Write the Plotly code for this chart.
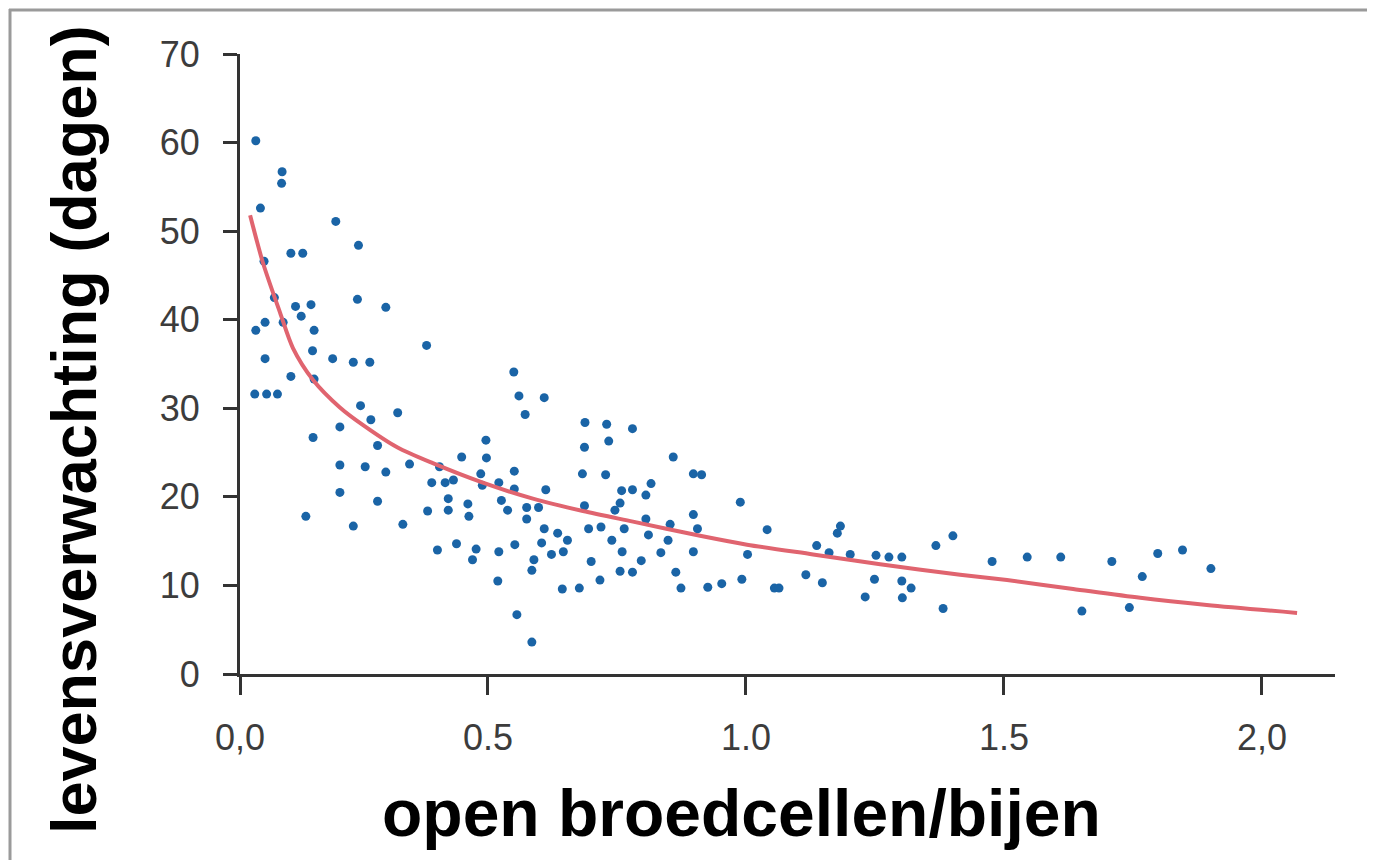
import plotly.graph_objects as go

# ---- data ----
x_pts = [
    0.050, 0.101, 0.100, 0.059, 0.205, 0.249, 0.066, 0.118, 0.141, 0.086,
    0.247, 0.302, 0.127, 0.157, 0.138, 0.068, 0.103, 0.050, 0.163, 0.381,
    0.160, 0.068, 0.199, 0.239, 0.271, 0.118, 0.163, 0.048, 0.071, 0.092,
    0.253, 0.325, 0.273, 0.213, 0.161, 0.286, 0.213, 0.262, 0.302, 0.348,
    0.406, 0.391, 0.417, 0.423, 0.213, 0.286, 0.383, 0.423, 0.147, 0.239,
    0.335, 0.402,
    0.550, 0.560, 0.609, 0.572, 0.688, 0.730, 0.780, 0.734, 0.687, 0.496,
    0.449, 0.497, 0.859, 0.683, 0.728, 0.898, 0.486, 0.551, 0.433, 0.489,
    0.521, 0.551, 0.612, 0.816, 0.780, 0.759, 0.806, 0.461, 0.526, 0.756,
    0.687, 0.746, 0.575, 0.598, 0.463, 0.538, 0.575, 0.898, 0.806, 0.853,
    0.695, 0.719, 0.764, 0.609, 0.635, 0.654, 0.906, 0.811, 0.740, 0.849,
    0.439, 0.552, 0.604, 0.477, 0.521, 0.623, 0.646, 0.760, 0.835, 0.898,
    0.470, 0.589, 0.700, 0.797, 0.585, 0.756, 0.780, 0.864, 0.717, 0.519,
    0.644, 0.677, 0.874, 0.556, 0.585,
    0.914, 0.989, 1.041, 1.183, 1.177, 1.401, 1.368, 1.137, 1.161, 1.202,
    1.252, 1.277, 1.302, 1.003, 0.926, 0.953, 0.992, 1.055, 1.064, 1.116,
    1.148, 1.249, 1.302, 1.320, 1.231, 1.303, 1.382,
    1.477, 1.545, 1.610, 1.651, 1.709, 1.743, 1.768, 1.798, 1.846, 1.901,
]
y_pts = [
    60.2, 56.7, 55.4, 52.6, 51.1, 48.4, 46.6, 47.5, 47.5, 42.5,
    42.3, 41.4, 41.5, 41.7, 40.4, 39.7, 39.7, 38.8, 38.8, 37.1,
    36.5, 35.6, 35.6, 35.2, 35.2, 33.6, 33.3, 31.6, 31.6, 31.6,
    30.3, 29.5, 28.7, 27.9, 26.7, 25.8, 23.6, 23.4, 22.8, 23.7,
    23.4, 21.6, 21.6, 19.8, 20.5, 19.5, 18.4, 18.5, 17.8, 16.7,
    16.9, 14.0,
    34.1, 31.4, 31.2, 29.3, 28.4, 28.2, 27.7, 26.3, 25.6, 26.4,
    24.5, 24.4, 24.5, 22.6, 22.5, 22.6, 22.6, 22.9, 21.9, 21.3,
    21.6, 20.9, 20.8, 21.5, 20.8, 20.7, 20.2, 19.2, 19.6, 19.3,
    19.0, 18.5, 18.8, 18.8, 17.8, 18.5, 17.5, 18.0, 17.5, 16.9,
    16.4, 16.6, 16.4, 16.4, 15.9, 15.1, 16.4, 15.7, 15.1, 15.1,
    14.7, 14.6, 14.8, 14.1, 13.8, 13.5, 13.8, 13.8, 13.7, 13.8,
    12.9, 12.9, 12.7, 12.8, 11.7, 11.6, 11.5, 11.5, 10.6, 10.5,
    9.6, 9.7, 9.7, 6.7, 3.6,
    22.5, 19.4, 16.3, 16.7, 15.9, 15.6, 14.5, 14.5, 13.7, 13.5,
    13.4, 13.2, 13.2, 13.5, 9.8, 10.2, 10.7, 9.7, 9.7, 11.2,
    10.3, 10.7, 10.5, 9.7, 8.7, 8.6, 7.4,
    12.7, 13.2, 13.2, 7.1, 12.7, 7.5, 11.0, 13.6, 14.0, 11.9,
]

# fitted curve
curve_x = [0.039, 0.064, 0.097, 0.122, 0.161, 0.213, 0.258, 0.324, 0.393, 0.490,
           0.587, 0.684, 0.781, 0.911, 1.002, 1.130, 1.260, 1.415, 1.506, 1.634,
           1.764, 1.893, 2.068]
curve_y = [51.8, 46.4, 40.8, 36.8, 33.2, 30.1, 28.1, 25.6, 23.8, 21.6,
           19.8, 18.4, 17.2, 15.6, 14.6, 13.5, 12.4, 11.2, 10.6, 9.6,
           8.6, 7.8, 6.9]

x_tickvals = [0.0194, 0.5, 1.0, 1.5, 2.0]
x_ticktext = ["0,0", "0.5", "1.0", "1.5", "2,0"]
y_tickvals = [0, 10, 20, 30, 40, 50, 60, 70]

x_title = "open broedcellen/bijen"
y_title = "levensverwachting (dagen)"

# ---- figure ----
OFF = 8  # page body margin
W, H = 1375 - OFF, 860 - OFF
# plot area in screen pixels
L, R, T, B = 240, 1335, 54, 674
pw, ph = R - L, B - T

def px_x(p):
    return (p - L) / pw

def px_y(p):
    return (B - p) / ph

fig = go.Figure()
fig.add_trace(go.Scatter(
    x=x_pts, y=y_pts, mode="markers",
    marker=dict(size=9, color="#1a64a6", line=dict(width=0)),
    showlegend=False, hoverinfo="skip",
))
fig.add_trace(go.Scatter(
    x=curve_x, y=curve_y, mode="lines",
    line=dict(color="#e0646f", width=4, shape="spline", smoothing=0.8),
    showlegend=False, hoverinfo="skip",
))

axis_font = dict(family="Liberation Sans, Arial, sans-serif", size=36, color="#3c3c3c")

fig.update_layout(
    width=W, height=H,
    margin=dict(l=L - OFF, r=(1375 - R), t=T - OFF, b=(860 - B), pad=0),
    paper_bgcolor="white", plot_bgcolor="white",
    xaxis=dict(
        range=[0.0194, 2.1415], showgrid=False, zeroline=False,
        showline=True, linecolor="#333333", linewidth=3,
        ticks="outside", ticklen=18, tickwidth=3, tickcolor="#333333",
        tickvals=x_tickvals, ticktext=x_ticktext,
        tickfont=axis_font, ticklabelstandoff=12,
    ),
    yaxis=dict(
        range=[0, 70], showgrid=False, zeroline=False,
        showline=True, linecolor="#333333", linewidth=3,
        ticks="outside", ticklen=14, tickwidth=3, tickcolor="#333333",
        tickvals=y_tickvals, tickfont=axis_font, ticklabelstandoff=16,
    ),
    annotations=[
        dict(text=x_title, xref="paper", yref="paper",
             x=px_x(741), y=px_y(813), xanchor="center", yanchor="middle",
             showarrow=False,
             font=dict(family="Liberation Sans, Arial, sans-serif", size=66,
                       color="black", weight="bold")),
        dict(text=y_title, xref="paper", yref="paper", textangle=-90,
             x=px_x(74), y=px_y(430), xanchor="center", yanchor="middle",
             showarrow=False,
             font=dict(family="Liberation Sans, Arial, sans-serif", size=63,
                       color="black", weight="bold")),
    ],
    shapes=[
        dict(type="line", xref="paper", yref="paper",
             x0=px_x(9), x1=px_x(1375), y0=px_y(10), y1=px_y(10),
             line=dict(color="#9a9a9a", width=3)),
        dict(type="line", xref="paper", yref="paper",
             x0=px_x(10), x1=px_x(10), y0=px_y(9), y1=px_y(860),
             line=dict(color="#9a9a9a", width=3)),
    ],
)

fig.write_html("out.html")
